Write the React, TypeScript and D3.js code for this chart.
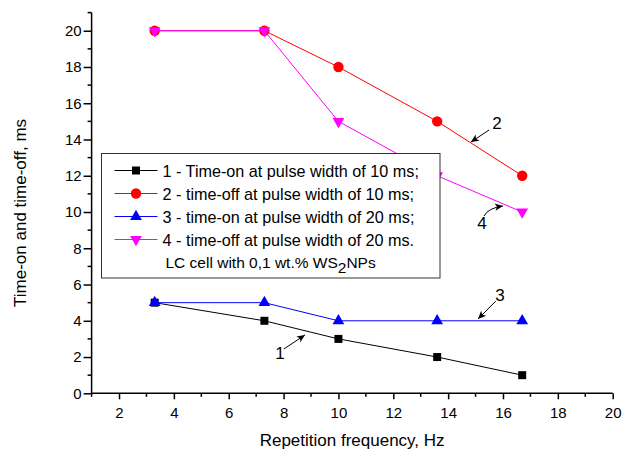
import React, { useRef, useEffect } from "react";
import * as d3 from "d3";

// frequency, Hz
const freq = [3.3, 7.3, 10, 13.6, 16.7];
// times, ms
const timeOn10 = [5, 4, 3, 2, 1];
const timeOff10 = [20, 20, 18, 15, 12];
const timeOn20 = [5, 5, 4, 4, 4];
const timeOff20 = [20, 20, 15, 12, 10];

const seriesLabels = [
  "1 - Time-on at pulse width of 10 ms;",
  "2 - time-off at pulse width of 10 ms;",
  "3 - time-on at pulse width of 20 ms;",
  "4 - time-off at pulse width of 20 ms.",
];
const xTicks = [2, 4, 6, 8, 10, 12, 14, 16, 18, 20];
const yTicks = [0, 2, 4, 6, 8, 10, 12, 14, 16, 18, 20];

// curve number labels with arrows, in data units: label pos, arrow start, arrow tip
const annotations = [
  { text: "1", lx: 7.87, ly: 2.2, sx: 8.01, sy: 2.44, tx: 8.78, ty: 3.22, curve: false },
  { text: "2", lx: 15.78, ly: 14.9, sx: 15.49, sy: 14.52, tx: 14.83, ty: 13.86, curve: false },
  { text: "3", lx: 15.89, ly: 5.42, sx: 15.74, sy: 5.09, tx: 15.09, ty: 4.1, curve: false },
  { text: "4", lx: 15.23, ly: 9.39, sx: 15.31, sy: 9.78, tx: 16.0, ty: 10.33, curve: true },
];

const App = () => {
  const ref = useRef<SVGSVGElement>(null);
  const width = 622;
  const height = 450;

  useEffect(() => {
    const svg = d3.select(ref.current);
    svg.selectAll("*").remove();
    const font = "'Liberation Sans', Arial, sans-serif";

    const x = d3.scaleLinear().domain([1, 20]).range([91.6, 612.7]);
    const y = d3.scaleLinear().domain([0, 21]).range([393.3, 12.6]);

    const defs = svg.append("defs");
    defs
      .append("marker")
      .attr("id", "arrow")
      .attr("viewBox", "0 0 10 10")
      .attr("refX", 10)
      .attr("refY", 5)
      .attr("markerWidth", 11)
      .attr("markerHeight", 8)
      .attr("markerUnits", "userSpaceOnUse")
      .attr("orient", "auto")
      .append("path")
      .attr("d", "M0,0.5 L10,5 L0,9.5 L2.5,5 Z")
      .attr("fill", "black");

    // axes
    const xAxis = d3
      .axisBottom(x)
      .tickValues(xTicks)
      .tickSize(6)
      .tickFormat(d3.format("d"));
    const gx = svg
      .append("g")
      .attr("transform", `translate(0, ${y(0)})`)
      .call(xAxis);
    gx.select(".domain").attr("d", `M${x(1)},0H${x(20)}`).attr("stroke-width", 1.5);
    gx.selectAll(".tick line").attr("stroke-width", 1.5);
    gx.selectAll("text").attr("font-size", 15).attr("font-family", font).attr("dy", "1.05em");
    gx.selectAll(".minor")
      .data(d3.range(1, 20, 2))
      .enter()
      .append("line")
      .attr("x1", (d) => x(d))
      .attr("x2", (d) => x(d))
      .attr("y1", 0)
      .attr("y2", 3.5)
      .attr("stroke", "black")
      .attr("stroke-width", 1.5);

    const yAxis = d3
      .axisLeft(y)
      .tickValues(yTicks)
      .tickSize(8)
      .tickFormat(d3.format("d"));
    const gy = svg
      .append("g")
      .attr("transform", `translate(${x(1)}, 0)`)
      .call(yAxis);
    gy.select(".domain").attr("d", `M0,${y(0)}V${y(21)}`).attr("stroke-width", 1.5);
    gy.selectAll(".tick line").attr("stroke-width", 1.5);
    gy.selectAll("text").attr("font-size", 15).attr("font-family", font).attr("x", -10);
    gy.selectAll(".minor")
      .data(d3.range(1, 22, 2))
      .enter()
      .append("line")
      .attr("x1", -4)
      .attr("x2", 0)
      .attr("y1", (d) => y(d))
      .attr("y2", (d) => y(d))
      .attr("stroke", "black")
      .attr("stroke-width", 1.5);

    // axis titles
    svg
      .append("text")
      .attr("x", (x(1) + x(20)) / 2)
      .attr("y", 446)
      .attr("text-anchor", "middle")
      .attr("font-size", 17)
      .attr("font-family", font)
      .text("Repetition frequency, Hz");
    svg
      .append("text")
      .attr("transform", `translate(26, ${y(10.5) + 10}) rotate(-90)`)
      .attr("text-anchor", "middle")
      .attr("font-size", 17)
      .attr("font-family", font)
      .text("Time-on and time-off, ms");

    const series = [
      { vals: timeOn10, color: "#000000", sym: d3.symbolSquare, size: 64, rot: 0 },
      { vals: timeOff10, color: "#ff0000", sym: d3.symbolCircle, size: 85, rot: 0 },
      { vals: timeOn20, color: "#0000ff", sym: d3.symbolTriangle, size: 60, rot: 0 },
      { vals: timeOff20, color: "#ff00ff", sym: d3.symbolTriangle, size: 60, rot: 180 },
    ];

    const line = d3
      .line<number>()
      .x((d, i) => x(freq[i]))
      .y((d) => y(d));

    series.forEach((s) => {
      svg
        .append("path")
        .attr("d", line(s.vals))
        .attr("fill", "none")
        .attr("stroke", s.color)
        .attr("stroke-width", 1);
      svg
        .selectAll(null)
        .data(s.vals)
        .enter()
        .append("path")
        .attr("d", d3.symbol().type(s.sym).size(s.size)())
        .attr("transform", (d, i) => `translate(${x(freq[i])}, ${y(d)}) rotate(${s.rot})`)
        .attr("fill", s.color);
    });

    // annotations
    annotations.forEach((a) => {
      svg
        .append("text")
        .attr("x", x(a.lx))
        .attr("y", y(a.ly))
        .attr("dy", "0.35em")
        .attr("text-anchor", "middle")
        .attr("font-size", 17)
        .attr("font-family", font)
        .text(a.text);
      const sx = x(a.sx), sy = y(a.sy), tx = x(a.tx), ty = y(a.ty);
      const d = a.curve
        ? `M${sx},${sy} Q${sx + 4},${ty + 2} ${tx},${ty}`
        : `M${sx},${sy} L${tx},${ty}`;
      svg
        .append("path")
        .attr("d", d)
        .attr("fill", "none")
        .attr("stroke", "black")
        .attr("stroke-width", 1)
        .attr("marker-end", "url(#arrow)");
    });

    // legend
    const legend = svg.append("g").attr("transform", "translate(101.5, 153.5)");
    legend
      .append("rect")
      .attr("width", 338.5)
      .attr("height", 124.5)
      .attr("fill", "white")
      .attr("stroke", "#333")
      .attr("stroke-width", 1);
    series.forEach((s, i) => {
      const ly = 17 + i * 23;
      legend
        .append("line")
        .attr("x1", 13)
        .attr("x2", 56)
        .attr("y1", ly)
        .attr("y2", ly)
        .attr("stroke", s.color)
        .attr("stroke-width", 1);
      legend
        .append("path")
        .attr("d", d3.symbol().type(s.sym).size(s.size)())
        .attr("transform", `translate(34.5, ${ly}) rotate(${s.rot})`)
        .attr("fill", s.color);
      legend
        .append("text")
        .attr("x", 61)
        .attr("y", ly + 6)
        .attr("font-size", 16.2)
        .attr("font-family", font)
        .text(seriesLabels[i]);
    });
    const note = legend
      .append("text")
      .attr("x", 64)
      .attr("y", 17 + 4 * 23 + 5)
      .attr("font-size", 15.5)
      .attr("font-family", font);
    note.append("tspan").text("LC cell with 0,1 wt.% WS");
    note.append("tspan").attr("dy", 5).text("2");
    note.append("tspan").attr("dy", -5).text("NPs");
  }, []);

  return (
    <svg
      ref={ref}
      width={width}
      height={height}
      style={{ position: "absolute", left: 0, top: 0, background: "white" }}
    />
  );
};

export default App;
